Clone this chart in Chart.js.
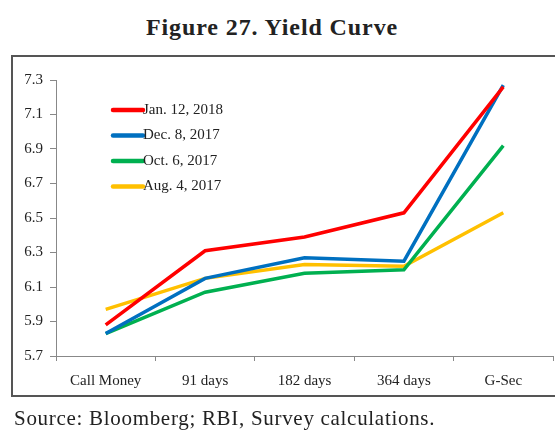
<!DOCTYPE html>
<html>
<head>
<meta charset="utf-8">
<script src="https://cdn.jsdelivr.net/npm/chart.js@4/dist/chart.umd.min.js"></script>
<style>
  html, body { margin: 0; padding: 0; background: #fff; }
  #wrap { position: relative; width: 555px; height: 436px; overflow: hidden; font-family: "Liberation Serif", "DejaVu Serif", serif; }
  #title { position: absolute; left: 0; width: 544px; top: 14px; text-align: center; font-weight: bold; font-size: 24px; letter-spacing: 0.9px; color: #222; }
  #box { position: absolute; left: 11px; top: 55px; width: 600px; height: 342px; border: 2px solid #555; box-sizing: border-box; }
  #source { position: absolute; left: 14px; top: 406px; font-size: 21px; letter-spacing: 0.7px; color: #222; white-space: nowrap; }
  canvas { position: absolute; left: 0; top: 0; }
</style>
</head>
<body>
<div id="wrap">
  <div id="title">Figure 27. Yield Curve</div>
  <div id="box"></div>
  <canvas id="c" width="555" height="436"></canvas>
  <div id="source">Source: Bloomberg; RBI, Survey calculations.</div>
</div>
<script>
const categories = ["Call Money", "91 days", "182 days", "364 days", "G-Sec"];
const seriesNames = ["Jan. 12, 2018", "Dec. 8, 2017", "Oct. 6, 2017", "Aug. 4, 2017"];
const jan12_2018 = [5.88, 6.31, 6.39, 6.53, 7.26];
const dec8_2017  = [5.83, 6.15, 6.27, 6.25, 7.27];
const oct6_2017  = [5.83, 6.07, 6.18, 6.20, 6.92];
const aug4_2017  = [5.97, 6.15, 6.23, 6.22, 6.53];
const yTicks = [5.7, 5.9, 6.1, 6.3, 6.5, 6.7, 6.9, 7.1, 7.3];
const colors = ["#FF0000", "#0070C0", "#00B050", "#FFC000"];

const seriesValues = [jan12_2018, dec8_2017, oct6_2017, aug4_2017];
const FONT = "'Liberation Serif', 'DejaVu Serif', serif";

const legendPlugin = {
  id: 'customLegend',
  afterDatasetsDraw(chart) {
    const ctx = chart.ctx;
    const x0 = 113, x1 = 143, yStart = 110, dy = 25.5;
    ctx.save();
    chart.data.datasets.forEach((ds, i) => {
      const y = yStart + i * dy;
      ctx.strokeStyle = ds.borderColor;
      ctx.lineWidth = 4.5;
      ctx.lineCap = 'round';
      ctx.beginPath();
      ctx.moveTo(x0, y);
      ctx.lineTo(x1, y);
      ctx.stroke();
      ctx.fillStyle = '#222';
      ctx.font = "15px " + FONT;
      ctx.textBaseline = 'middle';
      ctx.textAlign = 'left';
      ctx.fillText(ds.label, x1, y);
    });
    ctx.restore();
  }
};

new Chart(document.getElementById('c'), {
  type: 'line',
  data: {
    labels: categories,
    datasets: seriesNames.map((n, i) => ({
      label: n,
      data: seriesValues[i],
      borderColor: colors[i],
      backgroundColor: colors[i],
      borderWidth: 3.5,
      pointRadius: 0,
      tension: 0,
      fill: false
    }))
  },
  options: {
    responsive: false,
    animation: false,
    devicePixelRatio: 1,
    layout: { padding: { top: 80, right: 2, left: 0, bottom: 0 } },
    plugins: { legend: { display: false }, tooltip: { enabled: false }, title: { display: false } },
    scales: {
      x: {
        offset: true,
        grid: { offset: true, drawOnChartArea: false, drawTicks: true, tickLength: 5, color: '#888' },
        border: { color: '#888', width: 1 },
        ticks: { color: '#222', font: { family: FONT, size: 15 }, padding: 11, maxRotation: 0 },
        afterFit(s) { s.height = 80; }
      },
      y: {
        min: 5.7, max: 7.3,
        afterBuildTicks(s) { s.ticks = yTicks.map(v => ({ value: v })); },
        grid: { drawOnChartArea: false, drawTicks: true, tickLength: 6, color: '#888' },
        border: { color: '#888', width: 1 },
        ticks: { color: '#222', font: { family: FONT, size: 15 }, padding: 7, callback: v => Number(v).toFixed(1) },
        afterFit(s) { s.width = 56; }
      }
    }
  },
  plugins: [legendPlugin]
});
</script>
</body>
</html>
